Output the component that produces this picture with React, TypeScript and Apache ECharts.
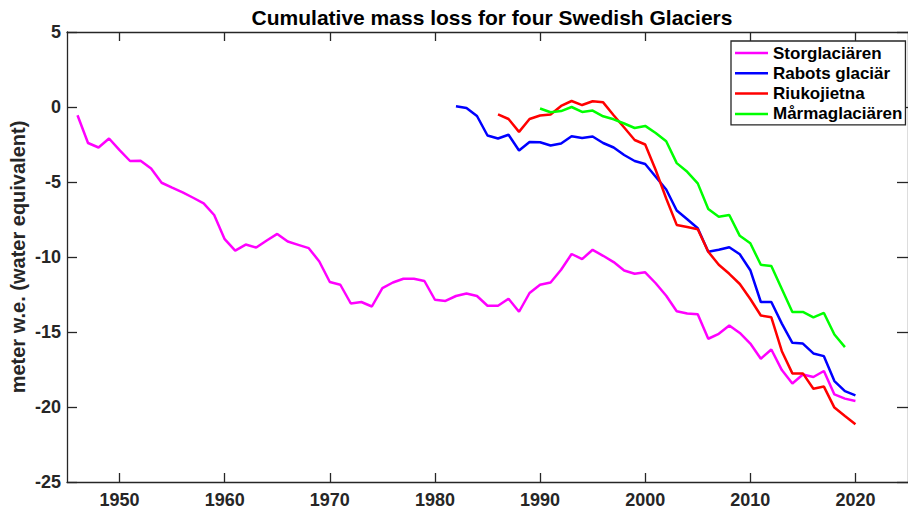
import React, { useEffect, useRef } from "react";
import * as echarts from "echarts";

const storStart = 1946;
const storValues = [
  -0.55, -2.4, -2.7, -2.1, -2.88, -3.6, -3.59, -4.1, -5.05, -5.38,
  -5.69, -6.05, -6.42, -7.2, -8.81, -9.57, -9.17, -9.37, -8.9, -8.46,
  -8.97, -9.19, -9.41, -10.3, -11.67, -11.85, -13.1, -13.0, -13.3, -12.07,
  -11.7, -11.45, -11.45, -11.6, -12.85, -12.93, -12.6, -12.43, -12.6, -13.25,
  -13.25, -12.78, -13.65, -12.4, -11.85, -11.7, -10.85, -9.8, -10.14, -9.52,
  -9.92, -10.34, -10.9, -11.12, -11.02, -11.75, -12.58, -13.62, -13.77, -13.82,
  -15.45, -15.12, -14.57, -15.06, -15.77, -16.78, -16.17, -17.54, -18.43, -17.83,
  -18.0, -17.6, -19.16, -19.44, -19.6,
];

const rabotsStart = 1982;
const rabotsValues = [
  0.05, -0.07, -0.6, -1.9, -2.1, -1.85, -2.9, -2.33, -2.35, -2.57,
  -2.43, -1.95, -2.06, -1.97, -2.4, -2.7, -3.2, -3.6, -3.8, -4.65,
  -5.5, -6.9, -7.48, -8.08, -9.65, -9.52, -9.35, -9.82, -10.88, -13.0,
  -13.0, -14.44, -15.72, -15.77, -16.43, -16.61, -18.27, -18.94, -19.22,
];

const riukoStart = 1986;
const riukoValues = [
  -0.49, -0.8, -1.66, -0.8, -0.57, -0.5, 0.07, 0.4, 0.13, 0.38,
  0.31, -0.55, -1.37, -2.2, -2.5, -4.2, -6.1, -7.86, -8.0, -8.15,
  -9.65, -10.52, -11.12, -11.8, -12.8, -13.9, -14.02, -16.28, -17.76, -17.76,
  -18.78, -18.64, -20.04, -20.6, -21.15,
];

const marmaStart = 1990;
const marmaValues = [
  -0.1, -0.35, -0.27, 0.0, -0.33, -0.24, -0.62, -0.82, -1.1, -1.4,
  -1.26, -1.73, -2.28, -3.74, -4.32, -5.09, -6.8, -7.31, -7.2, -8.59,
  -9.08, -10.52, -10.6, -12.13, -13.66, -13.66, -14.02, -13.73, -15.17, -16.01,
];

const seriesNames = ["Storglaciären", "Rabots glaciär", "Riukojietna", "Mårmaglaciären"];
const seriesColors = ["#ff00ff", "#0000ff", "#ff0000", "#00ff00"];
const xTicks = [1950, 1960, 1970, 1980, 1990, 2000, 2010, 2020];

const titleText = "Cumulative mass loss for four Swedish Glaciers";
const yLabelText = "meter w.e. (water equivalent)";

const FONT = "'Liberation Sans', Arial, sans-serif";
const AXIS_COLOR = "#262626";

function toPairs(start: number, values: number[]) {
  return values.map((v, i) => [start + i, v]);
}

export default function App() {
  const ref = useRef<HTMLDivElement>(null);
  useEffect(() => {
    if (!ref.current) return;
    const chart = echarts.init(ref.current, null, { renderer: "svg" });
    const allData = [
      toPairs(storStart, storValues),
      toPairs(rabotsStart, rabotsValues),
      toPairs(riukoStart, riukoValues),
      toPairs(marmaStart, marmaValues),
    ];
    const axisLine = { show: true, onZero: false, lineStyle: { color: AXIS_COLOR, width: 1.3 } };
    const tickStyle = { color: AXIS_COLOR, width: 1.3 };
    chart.setOption({
      animation: false,
      backgroundColor: "#ffffff",
      grid: { left: 67, top: 32, width: 851, height: 450, containLabel: false },
      xAxis: [
        {
          type: "value",
          min: 1945,
          max: 2025,
          position: "bottom",
          axisLine,
          axisTick: { show: true, inside: true, length: 9, customValues: xTicks, lineStyle: tickStyle },
          axisLabel: {
            show: true,
            customValues: xTicks,
            formatter: (v: number) => String(v),
            margin: 9,
            fontSize: 18,
            fontWeight: "bold",
            fontFamily: FONT,
            color: AXIS_COLOR,
          },
          splitLine: { show: false },
        },
        {
          type: "value",
          min: 1945,
          max: 2025,
          position: "top",
          axisLine,
          axisTick: { show: true, inside: true, length: 9, customValues: xTicks, lineStyle: tickStyle },
          axisLabel: { show: false },
          splitLine: { show: false },
        },
      ],
      yAxis: [
        {
          type: "value",
          min: -25,
          max: 5,
          interval: 5,
          position: "left",
          axisLine,
          axisTick: { show: true, inside: true, length: 10, lineStyle: tickStyle },
          axisLabel: {
            margin: 6,
            fontSize: 18,
            fontWeight: "bold",
            fontFamily: FONT,
            color: AXIS_COLOR,
          },
          splitLine: { show: false },
        },
        {
          type: "value",
          min: -25,
          max: 5,
          interval: 5,
          position: "right",
          axisLine,
          axisTick: { show: true, inside: true, length: 11, lineStyle: tickStyle },
          axisLabel: { show: false },
          splitLine: { show: false },
        },
      ],
      legend: {
        orient: "vertical",
        left: 731,
        top: 41,
        padding: [2, 3, 1, 4],
        itemGap: 0.3,
        itemWidth: 33,
        itemHeight: 2.5,
        icon: "rect",
        borderColor: AXIS_COLOR,
        borderWidth: 1.3,
        backgroundColor: "#ffffff",
        data: seriesNames,
        textStyle: {
          fontSize: 17,
          fontWeight: "bold",
          fontFamily: FONT,
          color: "#000000",
          lineHeight: 20,
        },
      },
      graphic: [
        {
          type: "text",
          x: 492,
          y: 17.7,
          style: {
            text: titleText,
            fontSize: 21,
            fontWeight: "bold",
            fontFamily: FONT,
            fill: "#000000",
            textAlign: "center",
            textVerticalAlign: "middle",
          },
        },
        {
          type: "text",
          x: 18,
          y: 257,
          rotation: Math.PI / 2,
          style: {
            text: yLabelText,
            fontSize: 20,
            fontWeight: "bold",
            fontFamily: FONT,
            fill: AXIS_COLOR,
            textAlign: "center",
            textVerticalAlign: "middle",
          },
        },
      ],
      series: seriesNames.map((name, i) => ({
        name,
        type: "line",
        xAxisIndex: 0,
        yAxisIndex: 0,
        data: allData[i],
        showSymbol: false,
        symbol: "none",
        lineStyle: { color: seriesColors[i], width: 2.5 },
        itemStyle: { color: seriesColors[i] },
      })),
    });
    return () => chart.dispose();
  }, []);
  return (
    <div
      ref={ref}
      style={{ position: "absolute", left: 0, top: 0, width: 908, height: 512 }}
    />
  );
}
